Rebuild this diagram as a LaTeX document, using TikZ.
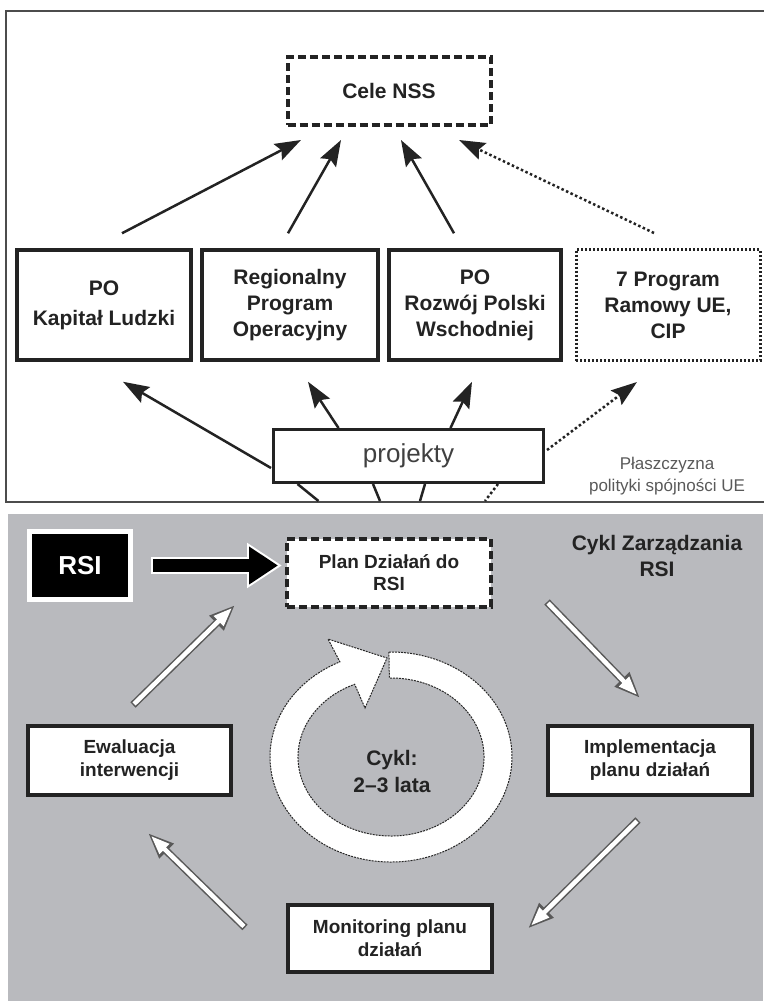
\documentclass[tikz,border=0pt]{standalone}
\usepackage{fontspec}
\setmainfont{Liberation Sans}
\usetikzlibrary{arrows.meta,calc}
\definecolor{panelgray}{RGB}{185,186,190}
\definecolor{ink}{RGB}{35,35,35}

\begin{document}
\begin{tikzpicture}[x=1pt,y=-1pt,
    box/.style={draw=ink,line width=3.5pt,fill=white,align=center,inner sep=0pt,text=ink,
      font=\bfseries\fontsize{21}{26}\selectfont},
    dashbox/.style={box,line width=4pt,dash pattern=on 8pt off 4pt},
    dotbox/.style={box,line width=3pt,dash pattern=on 2pt off 2pt},
    cycbox/.style={box,line width=4pt,minimum width=204pt,minimum height=69pt,
      font=\bfseries\fontsize{19}{23}\selectfont},
    arr/.style={ink,line width=2.5pt,-{Stealth[length=26pt,width=18pt,inset=4pt]}},
    dotarr/.style={arr,dash pattern=on 2.5pt off 2.5pt},
    stub/.style={ink,line width=2.5pt},
    bigarr/.style={black,line width=13pt,shorten <=20pt,shorten >=7pt,
      -{Triangle[length=29pt,width=36pt]},
      preaction={draw=white,line width=17pt,shorten <=18pt,shorten >=3pt,
        -{Triangle[length=35pt,width=43pt]}}},
    hollow/.style={white,line width=4.5pt,shorten >=4pt,shorten <=1.5pt,
      -{Triangle[length=19pt,width=13pt]},
      preaction={draw=black!65,line width=7.5pt,shorten >=0pt,shorten <=0pt,
        -{Triangle[length=26pt,width=19pt]}}}]
  \useasboundingbox (0,0) rectangle (763,1001);

%% upper panel: cohesion policy level
  \draw[line width=2pt,black!70] (770,11) -- (6,11) -- (6,502) -- (770,502);

  \node (CELE) at (389,91) [dashbox,minimum width=203pt,minimum height=68pt] {Cele NSS};
  \node (KAP) at (104,305) [box,minimum width=174pt,minimum height=110pt] {PO\\[4pt]Kapitał Ludzki};
  \node (REG) at (290,305) [box,minimum width=176pt,minimum height=110pt] {Regionalny\\Program\\Operacyjny};
  \node (ROZ) at (475,305) [box,minimum width=172pt,minimum height=110pt] {PO\\Rozwój Polski\\Wschodniej};
  \node (RAM) at (668,305) [dotbox,minimum width=184pt,minimum height=111pt] {7 Program\\Ramowy UE,\\CIP};
  \node (PROJ) at (408.5,456) [box,line width=3pt,minimum width=270pt,minimum height=53pt,
    text=black!75,font=\fontsize{26}{30}\selectfont] {projekty};
  \node (PLA) at (667,476) [align=center,text=black!65,font=\fontsize{17}{22}\selectfont]
    {Płaszczyzna\\polityki spójności UE};

  \draw[arr] ($(KAP.north)+(18,-15)$) -- ($(CELE.south)+(-88,13)$);
  \draw[arr] ($(REG.north)+(-2,-15)$) -- ($(CELE.south)+(-48,13)$);
  \draw[arr] ($(ROZ.north)+(-21,-15)$) -- ($(CELE.south)+(12,13)$);
  \draw[dotarr] ($(RAM.north)+(-14,-15)$) -- ($(CELE.south)+(70,13)$);

  \draw[arr] ($(PROJ.west)+(-1,12)$) -- ($(KAP.south)+(19,20)$);
  \draw[arr] ($(PROJ.north)+(-70,0)$) -- ($(REG.south)+(18,20)$);
  \draw[arr] ($(PROJ.north)+(42,0)$) -- ($(ROZ.south)+(-3,20)$);
  \draw[dotarr] ($(PROJ.east)+(2,-6)$) -- ($(RAM.south)+(-31,20)$);

  \draw[stub] ($(PROJ.south)+(-111,0)$) -- ++(21,17);
  \draw[stub] ($(PROJ.south)+(-35.5,0)$) -- ++(7,17);
  \draw[stub] ($(PROJ.south)+(16.5,0)$) -- ++(-5,17);
  \draw[stub,dash pattern=on 2.5pt off 2.5pt] ($(PROJ.south)+(89.5,0)$) -- ++(-13,17);

%% lower panel: management cycle
  \fill[panelgray] (8,514) rectangle (763,1001);

  \node (RSI) at (80,565.5) [draw=white,fill=black,line width=5pt,minimum width=101pt,minimum height=68pt,
    text=white,font=\bfseries\fontsize{26}{30}\selectfont] {RSI};
  \node (PLAN) at (389,573) [dashbox,minimum width=204pt,minimum height=68pt,
    font=\bfseries\fontsize{19}{22}\selectfont] {Plan Działań do\\RSI};
  \node (IMPL) at (650,760.5) [cycbox] {Implementacja\\planu działań};
  \node (MONI) at (390,938.5) [cycbox,minimum height=67pt] {Monitoring planu\\działań};
  \node (EWA) at (129.5,760.5) [cycbox,minimum width=203pt] {Ewaluacja\\interwencji};
  \node (TYT) at (657,556) [align=center,text=ink,font=\bfseries\fontsize{21}{26}\selectfont]
    {Cykl Zarządzania\\RSI};

  \draw[bigarr] (RSI.east) -- (RSI.east -| PLAN.west);

  \draw[hollow] ($(PLAN.south east)+(54,-7)$) -- ($(IMPL.north)+(-10,-26)$);
  \draw[hollow] ($(IMPL.south)+(-12,23)$) -- ($(MONI.east)+(34,-10)$);
  \draw[hollow] ($(MONI.west)+(-41,-11)$) -- ($(EWA.south)+(18.5,36)$);
  \draw[hollow] ($(EWA.north)+(3.5,-19)$) -- ($(PLAN.south west)+(-50,-4)$);

%% ring arrow, clockwise, head meets the tail at the top
  \coordinate (CYK) at (391,757);
  \filldraw[fill=white,draw=black!85,line width=1pt,dash pattern=on 2pt off 1pt]
    ($(CYK)+(-91:121 and 105)$) arc[start angle=-91,end angle=245,x radius=121,y radius=105]
    -- (328,639) -- (387,658) -- (365,708)
    -- ($(CYK)+(247:93 and 79)$) arc[start angle=247,end angle=-91,x radius=93,y radius=79]
    -- cycle;
  \node (CYKT) at (392,771) [align=center,text=ink,font=\bfseries\fontsize{21}{27}\selectfont]
    {Cykl:\\2–3 lata};

\end{tikzpicture}
\end{document}
